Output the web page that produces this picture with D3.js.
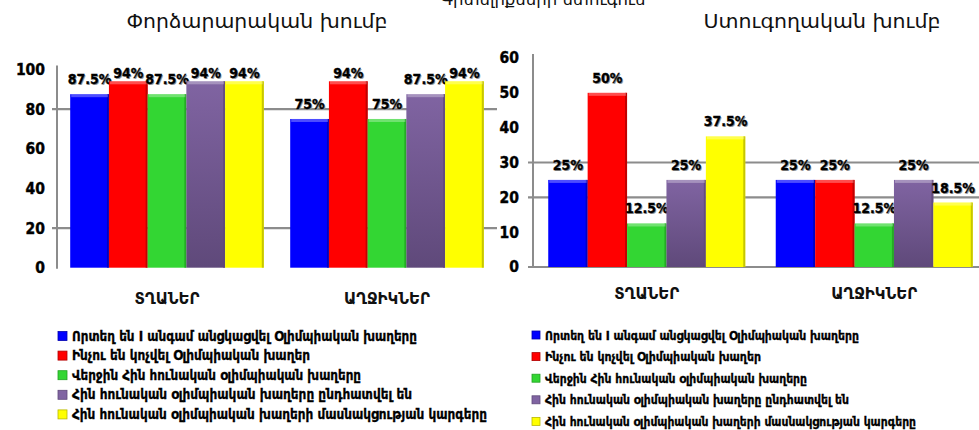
<!DOCTYPE html>
<html><head><meta charset="utf-8">
<script src="https://cdn.jsdelivr.net/npm/d3@7"></script>
<style>
body{margin:0;background:#fff;}
svg{display:block;}
</style></head>
<body>
<svg id="c" width="979" height="430"></svg>
<script>
// ---- data ----
const categories = ["ՏՂԱՆԵՐ", "ԱՂՋԻԿՆԵՐ"];
const seriesNames = [
  "Որտեղ են I անգամ անցկացվել Օլիմպիական խաղերը",
  "Ինչու են կոչվել Օլիմպիական խաղեր",
  "Վերջին Հին հունական օլիմպիական խաղերը",
  "Հին հունական օլիմպիական խաղերը ընդհատվել են",
  "Հին հունական օլիմպիական խաղերի մասնակցության կարգերը"
];
const seriesColors = ["#0000ff", "#ff0000", "#33d633", "#8064a2", "#ffff00"];
const seriesDark = ["#0000b0", "#b00000", "#22a022", "#5f497a", "#b8b800"];
const expBoys = [87.5, 94, 87.5, 94, 94];
const expGirls = [75, 94, 75, 87.5, 94];
const ctrlBoys = [25, 50, 12.5, 25, 37.5];
const ctrlGirls = [25, 25, 12.5, 25, 18.5];
const expTicks = [0, 20, 40, 60, 80, 100];
const ctrlTicks = [0, 10, 20, 30, 40, 50, 60];
const expGrid = [20, 80];
const ctrlGrid = [20, 30];
const mainTitle = "Գիտելիքների ստուգում";
const expTitle = "Փորձարարական խումբ";
const ctrlTitle = "Ստուգողական խումբ";

const svg = d3.select("#c");
const defs = svg.append("defs");
seriesColors.forEach((c, i) => {
  const g = defs.append("linearGradient").attr("id", "g" + i)
    .attr("x1", 0).attr("y1", 0).attr("x2", 0).attr("y2", 1);
  g.append("stop").attr("offset", "0%").attr("stop-color", c);
  g.append("stop").attr("offset", "100%").attr("stop-color", i === 3 ? "#5f497a" : c);
});

const numFont = "'DejaVu Sans Condensed','Liberation Sans Narrow','DejaVu Sans',sans-serif";
const armFont = "'DejaVu Sans',sans-serif";

function drawChart(o) {
  const g = svg.append("g");
  const x0 = d3.scaleBand().domain(categories).range(o.xRange)
    .paddingInner(o.padIn).paddingOuter(o.padOut);
  const x1 = d3.scaleBand().domain(d3.range(seriesNames.length)).range([0, x0.bandwidth()]);
  const y = d3.scaleLinear().domain(o.yDomain).range(o.yRange);
  const data = [o.boys, o.girls];

  // gridlines
  g.selectAll(".grid").data(o.grid).enter().append("line")
    .attr("x1", o.gridX[0]).attr("x2", o.gridX[1])
    .attr("y1", d => y(d)).attr("y2", d => y(d))
    .attr("stroke", "#8c8c8c").attr("stroke-width", 2.2);

  // axis
  const ax = g.append("g").attr("transform", `translate(${o.xRange[0]},0)`)
    .call(d3.axisLeft(y).tickValues(o.ticks).tickSize(0).tickPadding(o.tickPad));
  ax.select(".domain").remove();
  ax.selectAll("text").attr("font-family", numFont).attr("font-weight", "bold")
    .attr("font-size", 15.5).attr("fill", "#000").attr("stroke", "#000").attr("stroke-width", 0.4);
  g.append("line").attr("x1", o.xRange[0]).attr("x2", o.xRange[0])
    .attr("y1", y(o.yDomain[1]) - 4).attr("y2", y(0) + 1)
    .attr("stroke", "#8c8c8c").attr("stroke-width", 2);
  if (o.baseLine) {
    g.append("line").attr("x1", o.gridX[0]).attr("x2", o.gridX[1])
      .attr("y1", y(0)).attr("y2", y(0)).attr("stroke", "#8c8c8c").attr("stroke-width", 2.2);
  }

  categories.forEach((cat, ci) => {
    const grp = g.append("g").attr("transform", `translate(${x0(cat)},0)`);
    const vals = data[ci];
    const bars = grp.selectAll(".bar").data(vals).enter().append("g");
    bars.append("rect")
      .attr("x", (d, i) => x1(i)).attr("width", x1.bandwidth())
      .attr("y", d => y(d)).attr("height", d => y(0) - y(d))
      .attr("fill", (d, i) => `url(#g${i})`);
    bars.append("rect")
      .attr("x", (d, i) => x1(i) + x1.bandwidth() - 2).attr("width", 2)
      .attr("y", d => y(d)).attr("height", d => y(0) - y(d))
      .attr("fill", (d, i) => seriesDark[i]).attr("opacity", 0.8);
    bars.append("rect")
      .attr("x", (d, i) => x1(i) + 1).attr("width", x1.bandwidth() - 2)
      .attr("y", d => y(d)).attr("height", 3)
      .attr("fill", "#fff").attr("opacity", 0.3);
    const lab = (d) => d + "%";
    const ly = d => Math.max(y(d) - 10, o.labelMinY);
    bars.append("text")
      .attr("x", (d, i) => x1(i) + x1.bandwidth() / 2 + 1).attr("y", d => ly(d) + 1)
      .attr("text-anchor", "middle").attr("font-family", numFont).attr("font-weight", "bold")
      .attr("font-size", 14).attr("fill", "#9a9a9a").text(lab);
    bars.append("text")
      .attr("x", (d, i) => x1(i) + x1.bandwidth() / 2).attr("y", d => ly(d))
      .attr("text-anchor", "middle").attr("font-family", numFont).attr("font-weight", "bold")
      .attr("font-size", 14).attr("fill", "#000").attr("stroke", "#000").attr("stroke-width", 0.3).text(lab);
  });

  g.selectAll(".cat").data(categories).enter().append("text")
    .attr("x", d => x0(d) + x0.bandwidth() / 2).attr("y", o.catY)
    .attr("text-anchor", "middle").attr("font-family", armFont).attr("font-weight", "bold")
    .attr("font-size", 15).attr("fill", "#111").text(d => d);

  svg.append("text").attr("x", o.titleX).attr("y", 28).attr("text-anchor", "middle")
    .attr("font-family", armFont).attr("font-size", 19).attr("fill", "#111")
    .attr("textLength", o.titleLen).attr("lengthAdjust", "spacingAndGlyphs").text(o.title);

  const lg = svg.append("g");
  seriesNames.forEach((s, i) => {
    const yy = o.legY + i * o.legStep;
    lg.append("rect").attr("x", o.legX).attr("y", yy - o.sq / 2).attr("width", o.sq).attr("height", o.sq)
      .attr("fill", seriesColors[i]).attr("stroke", seriesDark[i]).attr("stroke-width", 0.8);
    lg.append("text").attr("x", o.legX + o.sq + 5).attr("y", yy + 4.5)
      .attr("font-family", "'DejaVu Sans Condensed','DejaVu Sans',sans-serif").attr("font-weight", "bold")
      .attr("font-size", o.legFont).attr("fill", "#000").attr("stroke", "#000").attr("stroke-width", 0.3)
      .attr("textLength", o.legLens[i]).attr("lengthAdjust", "spacingAndGlyphs").text(s);
  });
}

drawChart({
  boys: expBoys, girls: expGirls, xRange: [57, 497], padIn: 0.12, padOut: 0.06,
  yDomain: [0, 100], yRange: [267.7, 69.4], ticks: expTicks, grid: expGrid, gridX: [52, 497],
  tickPad: 12, labelMinY: 78, catY: 304, title: expTitle, titleX: 257, titleLen: 261,
  legX: 58, legY: 336, legStep: 19.6, sq: 9, legFont: 14,
  legLens: [345, 238, 289, 340, 415], baseLine: false
});
drawChart({
  boys: ctrlBoys, girls: ctrlGirls, xRange: [533, 988], padIn: 0.134, padOut: 0.067,
  yDomain: [0, 60], yRange: [267, 58], ticks: ctrlTicks, grid: ctrlGrid, gridX: [528, 979],
  tickPad: 14, labelMinY: 0, catY: 299, title: ctrlTitle, titleX: 822, titleLen: 237,
  legX: 532, legY: 335, legStep: 21.6, sq: 8, legFont: 12,
  legLens: [314, 216, 262, 304, 371], baseLine: true
});

svg.append("text").attr("x", 543).attr("y", 5).attr("text-anchor", "middle")
  .attr("font-family", armFont).attr("font-size", 16).attr("fill", "#111")
  .attr("textLength", 205).attr("lengthAdjust", "spacingAndGlyphs").text(mainTitle);
</script>
</body></html>
